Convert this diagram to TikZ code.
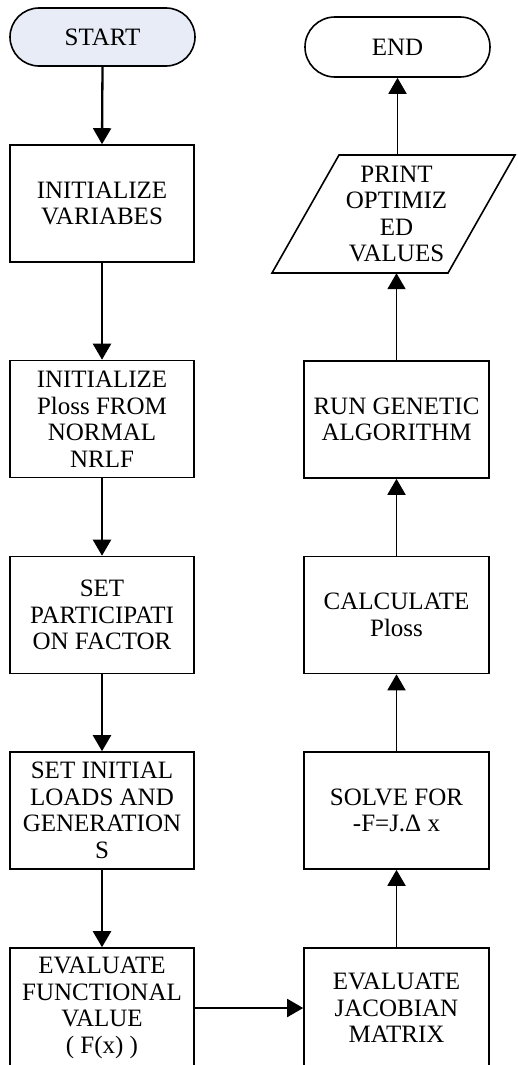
\documentclass[tikz,border=0pt]{standalone}
\usepackage{fontspec}
\setmainfont{Liberation Serif}
\usetikzlibrary{arrows.meta,calc}
\definecolor{startfill}{RGB}{231,236,246}
\begin{document}
\begin{tikzpicture}[x=1pt,y=-1pt,
  txt/.style={inner sep=0pt,align=center,font=\fontsize{25}{26.5}\selectfont},
  box/.style={txt,draw,line width=1.6pt,minimum width=184pt,minimum height=117pt},
  term/.style={box,rounded corners=29pt,minimum height=58pt,minimum width=185pt},
  arr/.style={line width=2.3pt,-{Triangle[length=16pt,width=18pt]}},
  arrr/.style={line width=1.9pt,-{Triangle[length=16pt,width=18pt]}}]
\useasboundingbox (0,0) rectangle (518,1065);
\clip (0,0) rectangle (518,1065);
\fill[white] (0,0) rectangle (518,1065);
% left column
\node[term,fill=startfill] (st) at (102.5,37) {START};
\node[box] (b1) at (102,203.5) {INITIALIZE\\VARIABES};
\node[box] (b2) at (102,419) {INITIALIZE\\Ploss FROM\\NORMAL\\NRLF};
\node[box] (b3) at (102,615) {SET\\PARTICIPATI\\ON FACTOR};
\node[box] (b4) at (102,810.5) {SET INITIAL\\LOADS AND\\GENERATION\\S};
\node[box,minimum height=120pt] (b5) at (102,1008) {EVALUATE\\FUNCTIONAL\\VALUE\\( F(x) )};
% right column
\node[box,minimum width=185pt,minimum height=120pt] (b6) at (396.5,1008) {EVALUATE\\JACOBIAN\\MATRIX};
\node[box,minimum width=185pt] (b7) at (396.5,810.5) {SOLVE FOR\\-F=J.Δ x};
\node[box,minimum width=185pt] (b8) at (396.5,615) {CALCULATE\\Ploss};
\node[box,minimum width=185pt] (b9) at (396.5,419.5) {RUN GENETIC\\ALGORITHM};
\node[txt,minimum width=176pt,minimum height=118pt] (pr) at (396.5,214) {PRINT\\OPTIMIZ\\ED\\VALUES};
\draw[line width=1.6pt] ($(pr.center)+(-124.5,59)$) -- ++(176,0) -- ++(67,-118) -- ++(-176,0) -- cycle;
\node[term,minimum height=60pt,rounded corners=30pt] (en) at (397.5,47) {END};
% connectors
\draw[arr] (st.south) -- (b1.north);
\draw[arr] (b1.south) -- (b2.north);
\draw[arr] (b2.south) -- (b3.north);
\draw[arr] (b3.south) -- (b4.north);
\draw[arr] (b4.south) -- (b5.north);
\draw[arrr] (b5.east) -- (b6.west);
\draw[arrr] (b6.north) -- (b7.south);
\draw[arrr] (b7.north) -- (b8.south);
\draw[arrr] (b8.north) -- (b9.south);
\draw[arrr] (b9.north) -- (b9.north |- pr.south);
\draw[arrr] (en.south |- pr.north) -- (en.south);
\end{tikzpicture}
\end{document}
